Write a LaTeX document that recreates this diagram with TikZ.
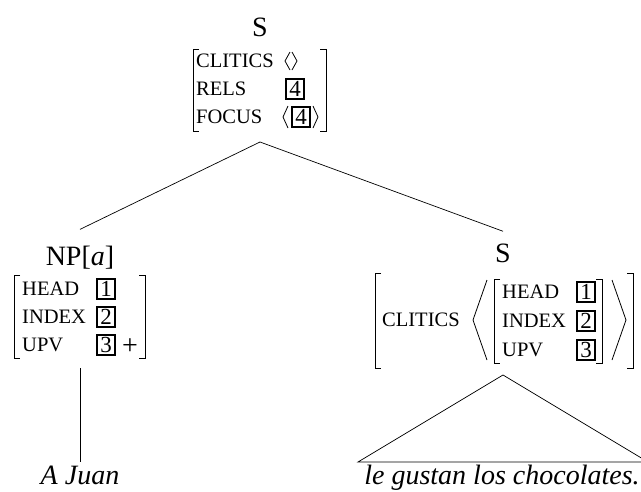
\documentclass[tikz,border=0pt]{standalone}
\usepackage{fontspec}
\setmainfont{Liberation Serif}
\begin{document}
\begin{tikzpicture}[x=1pt,y=-1pt,
  cat/.style={font=\fontsize{28}{32}\selectfont, inner sep=0pt, anchor=base},
  leaf/.style={font=\fontsize{28}{32}\selectfont\itshape, inner sep=0pt, anchor=base},
  feat/.style={font=\fontsize{20.5}{24}\selectfont, inner sep=0pt, anchor=west},
  tag/.style={draw, line width=2pt, minimum width=18pt, minimum height=20pt, inner sep=0pt, font=\fontsize{23}{24}\selectfont},
  brk/.style={line width=0.8pt},
  edge/.style={line width=0.7pt}]
\useasboundingbox (0,0) rectangle (641,491);

% ---------- top S ----------
\node[cat] (s0) at (260,36) {S};
\draw[brk] (199,49) -- (193,49) -- (193,131) -- (199,131);
\draw[brk] (320,49) -- (326,49) -- (326,131) -- (320,131);
\node[feat] (s0clit) at (196,61) {CLITICS};
\node[feat] (s0rels) at (196,89) {RELS};
\node[feat] (s0foc) at (196,117) {FOCUS};
\draw[brk] (290,52) -- (285,61) -- (290,70);
\draw[brk] (292,52) -- (297,61) -- (292,70);
\node[tag] (t4a) at (295,89) {4};
\draw[brk] (288,106) -- (283,117) -- (288,128);
\node[tag] (t4b) at (301,117) {4};
\draw[brk] (313,106) -- (318,117) -- (313,128);
\coordinate (apex) at (260,142);

% ---------- left NP ----------
\node[cat] (np) at (80,265) {NP[\textit{a}]};
\draw[brk] (20,275) -- (14,275) -- (14,358) -- (20,358);
\draw[brk] (139,275) -- (145,275) -- (145,358) -- (139,358);
\node[feat] (nphead) at (22,289) {HEAD};
\node[feat] (npindex) at (22,317) {INDEX};
\node[feat] (npupv) at (22,345) {UPV};
\node[tag] (t1a) at (106,289) {1};
\node[tag] (t2a) at (106,317) {2};
\node[tag] (t3a) at (106,345) {3};
\node[cat, anchor=center] (plus) at (130,347) {+};
\coordinate (npfoot) at (80,368);
\node[leaf] (juan) at (80,484) {A Juan};

% ---------- right S ----------
\node[cat] (s1) at (503,262) {S};
\draw[brk] (381,273) -- (375,273) -- (375,368) -- (381,368);
\draw[brk] (627,273) -- (633,273) -- (633,368) -- (627,368);
\node[feat] (s1clit) at (382,320) {CLITICS};
\draw[brk] (487,280) -- (473,320) -- (487,360);
\draw[brk] (612,280) -- (626,320) -- (612,360);
\draw[brk] (500,279) -- (494,279) -- (494,363) -- (500,363);
\draw[brk] (596,279) -- (602,279) -- (602,363) -- (596,363);
\node[feat] (s1head) at (502,292) {HEAD};
\node[feat] (s1index) at (502,321) {INDEX};
\node[feat] (s1upv) at (502,350) {UPV};
\node[tag] (t1b) at (586,292) {1};
\node[tag] (t2b) at (586,321) {2};
\node[tag] (t3b) at (586,350) {3};
\coordinate (triapex) at (503,375);
\coordinate (trileft) at (358,462);
\coordinate (triright) at (648,462);
\node[leaf] (leafr) at (502,484) {le gustan los chocolates.};

% ---------- connectors ----------
\draw[edge] (apex) -- ([yshift=16pt]np.north);
\draw[edge] (apex) -- ([yshift=12pt]s1.north);
\draw[edge] (npfoot) -- ([yshift=3pt]juan.north);
\draw[edge] (triapex) -- (trileft) -- (triright) -- cycle;
\end{tikzpicture}
\end{document}
